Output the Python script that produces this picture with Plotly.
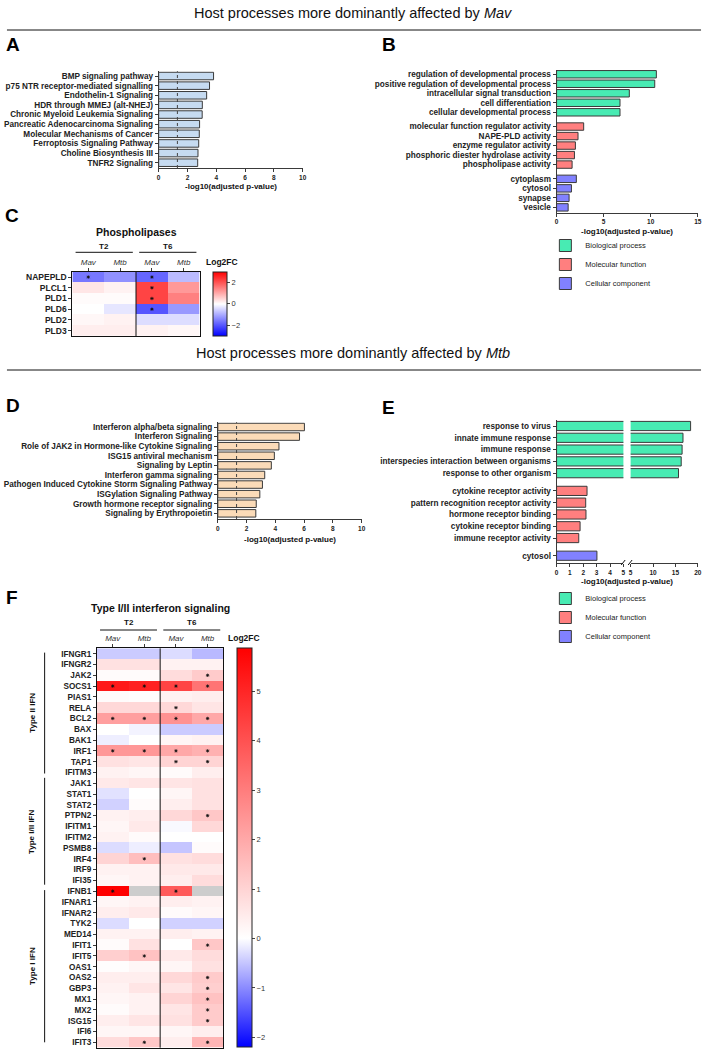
import plotly.graph_objects as go
import math

W, H = 709, 1052
def px(x): return x / W
def py(y): return 1 - y / H

FONT = "Liberation Sans, Arial, sans-serif"
EDGE = "#3a3a3a"
COL_A = "#C6DBF1"
COL_D = "#FBDBB8"
COL_BP = "#48EBB3"
COL_MF = "#FF7F7F"
COL_CC = "#8181FF"
THRESH = -math.log10(0.05)

# ---------------- DATA ----------------
A_terms = ["BMP signaling pathway", "p75 NTR receptor-mediated signalling", "Endothelin-1 Signaling",
           "HDR through MMEJ (alt-NHEJ)", "Chronic Myeloid Leukemia Signaling",
           "Pancreatic Adenocarcinoma Signaling", "Molecular Mechanisms of Cancer",
           "Ferroptosis Signaling Pathway", "Choline Biosynthesis III", "TNFR2 Signaling"]
A_vals = [3.81, 3.53, 3.33, 3.03, 3.02, 2.84, 2.82, 2.78, 2.73, 2.71]

B_bp_terms = ["regulation of developmental process", "positive regulation of developmental process",
              "intracellular signal transduction", "cell differentiation", "cellular developmental process"]
B_bp_vals = [10.6, 10.43, 7.73, 6.74, 6.74]
B_mf_terms = ["molecular function regulator activity", "NAPE-PLD activity", "enzyme regulator activity",
              "phosphoric diester hydrolase activity", "phospholipase activity"]
B_mf_vals = [2.88, 2.28, 2.0, 1.9, 1.65]
B_cc_terms = ["cytoplasm", "cytosol", "synapse", "vesicle"]
B_cc_vals = [2.1, 1.58, 1.33, 1.23]

C_genes = ["NAPEPLD", "PLCL1", "PLD1", "PLD6", "PLD2", "PLD3"]
C_T2_Mav = [-1.6, 0.3, 0.05, 0.0, 0.1, 0.2]
C_T2_Mtb = [-1.3, 0.15, 0.05, -0.3, 0.15, 0.2]
C_T6_Mav = [-1.8, 2.2, 2.2, -2.0, -0.4, 0.15]
C_T6_Mtb = [-0.8, 1.2, 1.5, -1.2, -0.4, 0.1]
C_sig = {0: ["NAPEPLD"], 1: [], 2: ["NAPEPLD", "PLCL1", "PLD1", "PLD6"], 3: []}

D_terms = ["Interferon alpha/beta signaling", "Interferon Signaling",
           "Role of JAK2 in Hormone-like Cytokine Signaling", "ISG15 antiviral mechanism",
           "Signaling by Leptin", "Interferon gamma signaling",
           "Pathogen Induced Cytokine Storm Signaling Pathway", "ISGylation Signaling Pathway",
           "Growth hormone receptor signaling", "Signaling by Erythropoietin"]
D_vals = [6.02, 5.68, 4.25, 3.93, 3.72, 3.26, 3.1, 2.92, 2.67, 2.64]

E_bp_terms = ["response to virus", "innate immune response", "immune response",
              "interspecies interaction between organisms", "response to other organism"]
E_bp_vals = [18.4, 16.7, 16.5, 16.3, 15.7]
E_mf_terms = ["cytokine receptor activity", "pattern recognition receptor activity",
              "hormone receptor binding", "cytokine receptor binding", "immune receptor activity"]
E_mf_vals = [2.28, 2.18, 2.2, 1.76, 1.66]
E_cc_terms = ["cytosol"]
E_cc_vals = [3.02]

CONDS = ["<i>Mav</i>", "<i>Mtb</i>", "<i>Mav</i>", "<i>Mtb</i>"]
TIMES = ["T2", "T6"]

F_genes = ["IFNGR1", "IFNGR2", "JAK2", "SOCS1", "PIAS1", "RELA", "BCL2", "BAX", "BAK1", "IRF1", "TAP1",
           "IFITM3", "JAK1", "STAT1", "STAT2", "PTPN2", "IFITM1", "IFITM2", "PSMB8", "IRF4", "IRF9",
           "IFI35", "IFNB1", "IFNAR1", "IFNAR2", "TYK2", "MED14", "IFIT1", "IFIT5", "OAS1", "OAS2",
           "GBP3", "MX1", "MX2", "ISG15", "IFI6", "IFIT3"]
F_T2_Mav = [-0.45, 0.7, 0.1, 5.3, 0.1, 0.9, 2.2, 0.0, -0.15, 2.4, 0.7, 0.3, 0.5, -0.25, -0.4, 0.3,
            0.2, 0.3, -0.3, 1.0, 0.3, 0.2, 5.9, 0.2, 0.4, -0.3, 0.3, 0.1, 1.1, 0.05, 0.4, 0.3, 0.2,
            0.1, 0.4, 0.2, 0.8]
F_T2_Mtb = [-0.45, 0.7, 0.1, 5.1, 0.05, 0.9, 2.2, -0.1, 0.0, 2.4, 0.6, 0.2, 0.6, 0.0, 0.1, 0.4,
            0.5, 0.1, -0.15, 1.5, 0.3, 0.3, None, 0.3, 0.5, 0.0, 0.3, 0.7, 1.4, 0.2, 0.4, 0.6, 0.3,
            0.3, 0.6, 0.2, 1.3]
F_T6_Mav = [-0.3, 0.3, 0.8, 4.3, 0.3, 0.9, 2.5, -0.45, 0.2, 2.0, 1.0, 0.1, 0.6, 0.2, 0.4, 0.9,
            -0.05, 0.0, -0.5, 0.7, 0.5, 0.4, 3.8, 0.4, 0.1, -0.4, 0.4, 0.0, 0.5, 0.2, 0.9, 0.6, 1.0,
            0.6, 0.7, 0.2, 0.4]
F_T6_Mtb = [-0.6, 0.3, 1.2, 3.2, 0.4, 0.6, 2.0, -0.45, 0.3, 1.8, 1.0, 0.4, 0.7, 0.7, 0.7, 1.3,
            0.9, 0.0, 0.1, 0.8, 0.5, 0.8, None, 0.3, 0.2, -0.4, 0.3, 1.3, 0.8, 0.7, 1.2, 1.1, 1.4,
            1.2, 1.2, 0.4, 1.7]
F_sig = {0: ["SOCS1", "BCL2", "IRF1", "IFNB1"],
         1: ["SOCS1", "BCL2", "IRF1", "IRF4", "IFIT5", "IFIT3"],
         2: ["SOCS1", "RELA", "BCL2", "IRF1", "TAP1", "IFNB1"],
         3: ["JAK2", "SOCS1", "BCL2", "IRF1", "TAP1", "PTPN2", "IFIT1", "OAS2", "GBP3", "MX1",
             "MX2", "ISG15", "IFIT3"]}
F_groups = [("Type II IFN", -0.1, 11.1), ("Type I/II IFN", 11.5, 21.4), ("Type I IFN", 21.9, 36.0)]

C_range = (-3, 3)
F_range = (-2.2, 5.87)

# ---------------- helpers ----------------
def group_positions(sizes, gap=0.5):
    out, start = [], 0
    for s in sizes:
        out.append([start + i for i in range(s)])
        start += s + gap
    return out

def bar(vals, pos, color, xa, ya, name=None, legend=None, show=False):
    return go.Bar(x=vals, y=pos, orientation="h", width=0.78,
                  marker=dict(color=color, line=dict(color=EDGE, width=1)),
                  xaxis=xa, yaxis=ya, name=name, showlegend=show,
                  legend=legend, legendgroup=name, hoverinfo="x+y")

def ydom(top, bottom): return [py(bottom), py(top)]
def xdom(left, right): return [px(left), px(right)]

AX = dict(showline=True, linecolor=EDGE, linewidth=1, ticks="outside", ticklen=3, tickwidth=1,
          tickcolor=EDGE, showgrid=False, zeroline=False, fixedrange=True)
TICKY = dict(size=8.2, family=FONT, color="#222", weight="bold")
TICKX = dict(size=6.5, family=FONT, color="#222", weight="bold")
STAR = dict(symbol="asterisk-open", size=2.8, color="#111", line=dict(color="#111", width=0.8))

fig = go.Figure()
layout = {}

# ---------------- A ----------------
posA = list(range(len(A_vals)))
fig.add_trace(bar(A_vals, posA, COL_A, "x", "y"))
layout["xaxis"] = dict(AX, domain=xdom(158, 303.3), range=[0, 10], dtick=2, anchor="y", tickfont=TICKX)
layout["yaxis"] = dict(AX, domain=ydom(71.2, 168), range=[9.55, -0.5], tickvals=posA, ticktext=A_terms,
                       anchor="x", tickfont=TICKY)

# ---------------- B ----------------
pB = group_positions([len(B_bp_vals), len(B_mf_vals), len(B_cc_vals)])
fig.add_trace(bar(B_bp_vals, pB[0], COL_BP, "x2", "y2", "Biological process", "legend", True))
fig.add_trace(bar(B_mf_vals, pB[1], COL_MF, "x2", "y2", "Molecular function", "legend", True))
fig.add_trace(bar(B_cc_vals, pB[2], COL_CC, "x2", "y2", "Cellular component", "legend", True))
layout["xaxis2"] = dict(AX, domain=xdom(559.3, 701.7), range=[0, 15], dtick=5, anchor="y2", tickfont=TICKX)
layout["yaxis2"] = dict(AX, domain=ydom(69.5, 212.6), range=[14.55, -0.5], anchor="x2",
                        tickvals=pB[0] + pB[1] + pB[2], ticktext=B_bp_terms + B_mf_terms + B_cc_terms,
                        tickfont=TICKY)

# ---------------- C ----------------
def cscale(lo, hi):
    w = (0 - lo) / (hi - lo)
    return [[0, "rgb(0,0,255)"], [w, "rgb(255,255,255)"], [1, "rgb(255,0,0)"]]

Cz = [[C_T2_Mav[i], C_T2_Mtb[i], C_T6_Mav[i], C_T6_Mtb[i]] for i in range(len(C_genes))]
fig.add_trace(go.Heatmap(z=Cz, x=[0, 1, 2, 3], y=list(range(len(C_genes))), zmin=C_range[0], zmax=C_range[1],
                         colorscale=cscale(*C_range), xaxis="x3", yaxis="y3",
                         colorbar=dict(x=px(213.3), xanchor="left", y=py(271.7), yanchor="top",
                                       len=64.3, lenmode="pixels", thickness=14, thicknessmode="pixels",
                                       xpad=0, ypad=0, outlinewidth=1, outlinecolor="#222",
                                       ticks="outside", ticklen=3, tickvals=[-2, 0, 2],
                                       tickfont=dict(size=7.5, family=FONT, color="#333"))))
sx, sy = [], []
for c, genes in C_sig.items():
    for g in genes:
        sx.append(c); sy.append(C_genes.index(g))
fig.add_trace(go.Scatter(x=sx, y=sy, mode="markers", xaxis="x3", yaxis="y3", showlegend=False,
                         marker=STAR, hoverinfo="skip"))
layout["xaxis3"] = dict(AX, domain=xdom(71, 199.3), range=[-0.5, 3.5], side="top", mirror=True,
                        linecolor="#111", tickvals=[0, 1, 2, 3], ticktext=CONDS, anchor="y3",
                        tickfont=dict(size=8, family=FONT, color="#333"))
layout["yaxis3"] = dict(AX, domain=ydom(271.7, 336), range=[len(C_genes) - 0.5, -0.5], mirror=True,
                        linecolor="#111", tickvals=list(range(len(C_genes))), ticktext=C_genes,
                        anchor="x3", tickfont=dict(TICKY, size=8.5))

# ---------------- D ----------------
posD = list(range(len(D_vals)))
fig.add_trace(bar(D_vals, posD, COL_D, "x4", "y4"))
layout["xaxis4"] = dict(AX, domain=xdom(217.7, 362.7), range=[0, 10], dtick=2, anchor="y4", tickfont=TICKX)
layout["yaxis4"] = dict(AX, domain=ydom(422.2, 519), range=[9.59, -0.5], tickvals=posD, ticktext=D_terms,
                        anchor="x4", tickfont=TICKY)

# ---------------- E (broken axis) ----------------
pE = group_positions([len(E_bp_vals), len(E_mf_vals), len(E_cc_vals)])
fig.add_trace(bar(E_bp_vals, pE[0], COL_BP, "x5", "y5", "Biological process", "legend2", True))
fig.add_trace(bar(E_mf_vals, pE[1], COL_MF, "x5", "y5", "Molecular function", "legend2", True))
fig.add_trace(bar(E_cc_vals, pE[2], COL_CC, "x5", "y5", "Cellular component", "legend2", True))
fig.add_trace(bar(E_bp_vals, pE[0], COL_BP, "x6", "y6", "Biological process", "legend2", False))
layout["xaxis5"] = dict(AX, domain=xdom(559.3, 626.7), range=[0, 5], dtick=1, anchor="y5", tickfont=TICKX)
layout["yaxis5"] = dict(AX, domain=ydom(420.1, 562.7), range=[11.59, -0.5], anchor="x5",
                        tickvals=pE[0] + pE[1] + pE[2], ticktext=E_bp_terms + E_mf_terms + E_cc_terms,
                        tickfont=TICKY)
layout["xaxis6"] = dict(AX, domain=xdom(634, 701.7), range=[5, 20], tickvals=[5, 10, 15, 20], anchor="y6",
                        tickfont=TICKX)
layout["yaxis6"] = dict(domain=ydom(420.1, 562.7), range=[11.59, -0.5], anchor="x6", visible=False,
                        fixedrange=True)

# ---------------- F ----------------
Fz = [[F_T2_Mav[i], F_T2_Mtb[i], F_T6_Mav[i], F_T6_Mtb[i]] for i in range(len(F_genes))]
Fmask = [[1 if v is None else None for v in row] for row in Fz]
fig.add_trace(go.Heatmap(z=Fmask, x=[0, 1, 2, 3], y=list(range(len(F_genes))), xaxis="x7", yaxis="y7",
                         colorscale=[[0, "#CDCDCD"], [1, "#CDCDCD"]], showscale=False, hoverinfo="skip"))
fig.add_trace(go.Heatmap(z=Fz, x=[0, 1, 2, 3], y=list(range(len(F_genes))), zmin=F_range[0], zmax=F_range[1],
                         colorscale=cscale(*F_range), xaxis="x7", yaxis="y7",
                         colorbar=dict(x=px(237.3), xanchor="left", y=py(648.3), yanchor="top",
                                       len=399, lenmode="pixels", thickness=14.5, thicknessmode="pixels",
                                       xpad=0, ypad=0, outlinewidth=1, outlinecolor="#222",
                                       ticks="outside", ticklen=3, tickvals=list(range(-2, 6)),
                                       tickfont=dict(size=7.5, family=FONT, color="#333"))))
sx, sy = [], []
for c, genes in F_sig.items():
    for g in genes:
        sx.append(c); sy.append(F_genes.index(g))
fig.add_trace(go.Scatter(x=sx, y=sy, mode="markers", xaxis="x7", yaxis="y7", showlegend=False,
                         marker=STAR, hoverinfo="skip"))
layout["xaxis7"] = dict(AX, domain=xdom(95.7, 223.3), range=[-0.5, 3.5], side="top", mirror=True,
                        linecolor="#111", tickvals=[0, 1, 2, 3], ticktext=CONDS, anchor="y7",
                        tickfont=dict(size=8, family=FONT, color="#333"))
layout["yaxis7"] = dict(AX, domain=ydom(648.3, 1047.7), range=[len(F_genes) - 0.5, -0.5], mirror=True,
                        linecolor="#111", tickvals=list(range(len(F_genes))), ticktext=F_genes,
                        anchor="x7", tickfont=dict(TICKY, size=8.2))

# ---------------- annotations & shapes ----------------
ann, shp = [], []
def text(x, y, s, size=8, bold=True, xref="paper", yref="paper", angle=0, color="#111", xanchor="center"):
    ann.append(dict(x=x, y=y, xref=xref, yref=yref, text=s, showarrow=False, textangle=angle,
                    xanchor=xanchor, yanchor="middle",
                    font=dict(size=size, family=FONT, color=color, weight="bold" if bold else "normal")))

def hline(x0, x1, y, xref="paper", width=1, color="#111"):
    shp.append(dict(type="line", x0=x0, x1=x1, y0=y, y1=y, xref=xref, yref="paper",
                    line=dict(color=color, width=width)))

# section titles
text(px(354), py(13), "Host processes more dominantly affected by <i>Mav</i>", size=14.5, bold=False)
hline(px(5), px(705), py(30))
text(px(354), py(353), "Host processes more dominantly affected by <i>Mtb</i>", size=14.5, bold=False)
hline(px(5), px(705), py(370))

# panel letters
for L, x, y in [("A", 11, 45), ("B", 390, 45), ("C", 10, 215), ("D", 11, 405), ("E", 390, 407), ("F", 10, 597)]:
    text(px(x), py(y), L, size=19, color="#000")

# axis titles
XT = "-log10(adjusted p-value)"
text(px(230.6), py(187), XT)
text(px(630.5), py(231.7), XT)
text(px(290.2), py(539), XT)
text(px(630.5), py(581.7), XT)

# threshold lines in A and D
for xr, yr in [("x", "y"), ("x4", "y4")]:
    shp.append(dict(type="line", x0=THRESH, x1=THRESH, y0=0, y1=1, xref=xr, yref=yr + " domain",
                    line=dict(color="#444", width=1, dash="dot")))

# E axis break marks
for x0 in (624.5, 631.5):
    shp.append(dict(type="line", x0=px(x0), x1=px(x0 + 4), y0=py(565), y1=py(560), xref="paper",
                    yref="paper", line=dict(color="#111", width=1)))

# heatmap headers
def heat_headers(xr, title, ytitle, yt, yline):
    text(1.5, py(ytitle), title, size=10.5, xref=xr)
    for i, t in enumerate(TIMES):
        text(0.5 + 2 * i, py(yt), t, size=8, xref=xr)
        hline(-0.4 + 2 * i, 1.4 + 2 * i, py(yline), xref=xr)
    shp.append(dict(type="line", x0=1.5, x1=1.5, y0=0, y1=1, xref=xr, yref=("y" + xr[1:]) + " domain",
                    line=dict(color="#111", width=1)))

heat_headers("x3", "Phospholipases", 231.7, 246.7, 252.3)
text(px(222), py(262), "Log2FC", size=8.5)
heat_headers("x7", "Type I/II interferon signaling", 607.7, 622.7, 630)
text(px(244.3), py(637.7), "Log2FC", size=8.5)

# F group brackets
for name, y0, y1 in F_groups:
    shp.append(dict(type="line", x0=px(43), x1=px(43), y0=y0, y1=y1, xref="paper", yref="y7",
                    line=dict(color="#111", width=1)))
    text(px(30), (y0 + y1) / 2, name, size=8, yref="y7", angle=-90)

LEG = dict(xanchor="left", yanchor="top", font=dict(size=7.5, family=FONT, color="#222"),
           bgcolor="rgba(0,0,0,0)", tracegroupgap=0, traceorder="normal", itemclick=False,
           itemdoubleclick=False)
layout["legend"] = dict(LEG, x=px(548), y=py(231))
layout["legend2"] = dict(LEG, x=px(548), y=py(584))

fig.update_layout(**layout)
fig.update_layout(width=W, height=H, margin=dict(l=0, r=0, t=0, b=0), paper_bgcolor="white",
                  plot_bgcolor="white", font=dict(family=FONT, color="#111"), annotations=ann, shapes=shp,
                  bargap=0.2)
fig.write_html("out.html")
